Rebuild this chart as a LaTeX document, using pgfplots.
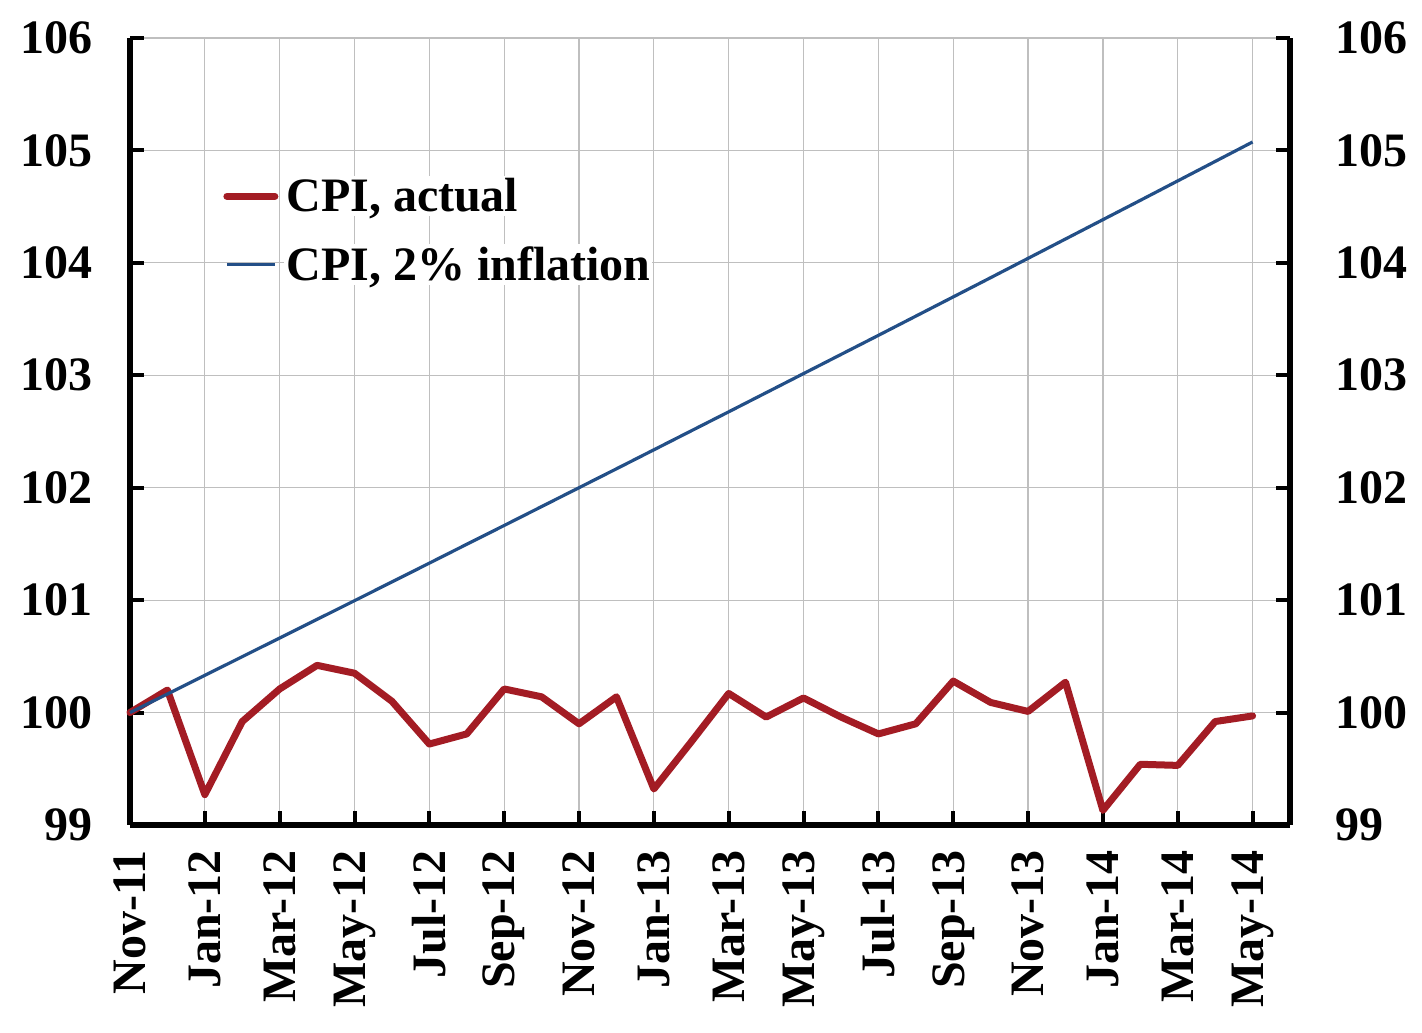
\documentclass[border=0pt]{standalone}
\usepackage{fontspec}
\setmainfont{Liberation Serif}
\usepackage{pgfplots}
\pgfplotsset{compat=1.18}

\definecolor{cpired}{HTML}{A31C24}
\definecolor{cpiblue}{HTML}{234F87}
\definecolor{gridgray}{HTML}{BFBFBF}

% month index 0 = Nov-11 ... 30 = May-14
\pgfplotstableread{
i actual target
0 100.00 100.000
1 100.20 100.165
2 99.27 100.331
3 99.92 100.497
4 100.21 100.663
5 100.42 100.829
6 100.35 100.995
7 100.10 101.162
8 99.72 101.329
9 99.81 101.497
10 100.21 101.664
11 100.14 101.832
12 99.90 102.000
13 100.14 102.168
14 99.32 102.337
15 99.74 102.506
16 100.17 102.675
17 99.96 102.845
18 100.13 103.015
19 99.96 103.185
20 99.81 103.355
21 99.90 103.526
22 100.28 103.697
23 100.09 103.868
24 100.01 104.040
25 100.27 104.212
26 99.13 104.384
27 99.54 104.556
28 99.53 104.729
29 99.92 104.902
30 99.97 105.075
}\cpidata

\pgfplotsset{
  cpibase/.style={
    scale only axis,
    width=580pt, height=393.5pt,
    xmin=0, xmax=31, ymin=99, ymax=106,
    ytick={99,100,...,106},
    font=\fontsize{24}{28}\selectfont\bfseries,
    /pgf/number format/assume math mode=true,
    tick align=inside,
    major tick length=7pt,
    tick style={line width=2pt, black},
    x axis line style={line width=2.8pt, black, -},
    y axis line style={line width=2.8pt, black, -},
  }
}

\begin{document}
\begin{tikzpicture}
\begin{axis}[cpibase,
    name=main,
    axis x line*=bottom,
    axis y line*=left,
    xtick={0,2,...,30},
    xticklabels={Nov-11,Jan-12,Mar-12,May-12,Jul-12,Sep-12,Nov-12,Jan-13,Mar-13,May-13,Jul-13,Sep-13,Nov-13,Jan-14,Mar-14,May-14},
    xticklabel style={rotate=90, anchor=east, xshift=-9pt},
    yticklabel style={xshift=-15pt},
    grid=major,
    major grid style={gridgray, line width=0.6pt},
    clip=false,
    legend style={draw=none, fill=none, at={(0.075,0.83)}, anchor=north west,
      row sep=14pt, nodes={fill=white, inner sep=1pt},
      font=\fontsize{24}{28}\selectfont\bfseries},
    legend cell align=left,
    legend image code/.code={\draw[#1] (0pt,0pt) -- (24pt,0pt); \path (27pt,0pt);},
  ]
  \addplot[cpired, line width=3.5pt, line join=round, line cap=round] table[x=i, y=actual] {\cpidata};
  \addlegendentry{CPI, actual}
  \addplot[cpiblue, line width=1.6pt, line join=round] table[x=i, y=target] {\cpidata};
  \addlegendentry{CPI, 2\% inflation}
\end{axis}
\begin{axis}[cpibase,
    axis x line=none,
    axis y line*=right,
    yticklabel style={xshift=19pt},
  ]
  \addplot[draw=none] coordinates {(0,99)};
\end{axis}
\useasboundingbox ([shift={(-65pt,-104pt)}]main.south west) rectangle ([shift={(66pt,19pt)}]main.north east);
\end{tikzpicture}
\end{document}
